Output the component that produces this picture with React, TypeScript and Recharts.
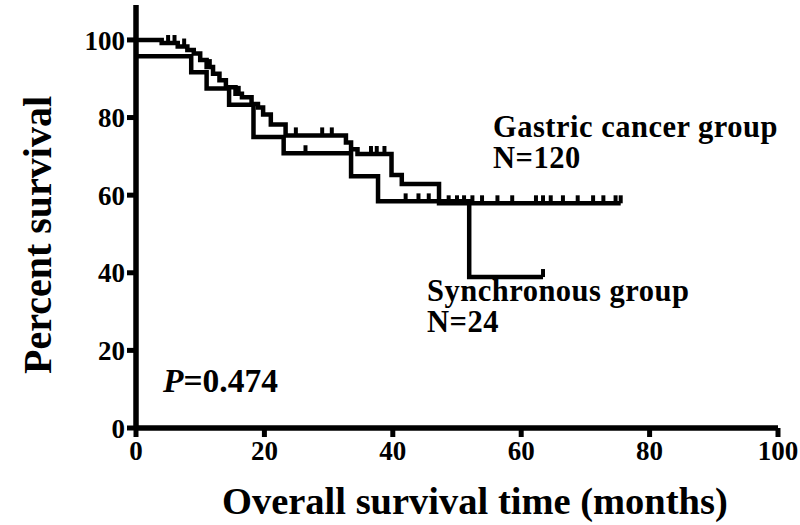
import React from "react";
import { ComposedChart, Line, Scatter, XAxis, YAxis, ReferenceLine } from "recharts";

// Kaplan-Meier step points (time in months, percent survival)
const gastricTime = [0, 4, 6.5, 8, 9, 10, 11, 12, 13, 14, 15.5, 16.5, 18, 19, 19.8, 21, 23.3, 32.7, 33.5, 34.5, 39.8, 41.4, 47.2, 75.5];
const gastricSurv = [100, 99.2, 98.3, 97.4, 96.5, 94.8, 93.0, 91.3, 89.6, 87.8, 86.1, 85.2, 83.5, 82.6, 80.8, 78.2, 75.4, 73.6, 71.8, 70.6, 65.2, 62.9, 57.9, 57.9];
const gastricCensorTime = [5, 6, 7.5, 11.5, 16, 24.9, 29, 30.5, 36.6, 37.5, 38.7, 48.7, 50, 51.1, 52.4, 53.9, 56.3, 58.6, 62.3, 63.4, 64.6, 66.5, 68.8, 71.2, 72.8, 74.7, 75.5];
const gastricCensorSurv = [99.2, 99.2, 98.3, 93.0, 86.1, 75.4, 75.4, 75.4, 70.6, 70.6, 70.6, 57.9, 57.9, 57.9, 57.9, 57.9, 57.9, 57.9, 57.9, 57.9, 57.9, 57.9, 57.9, 57.9, 57.9, 57.9, 57.9];

const syncTime = [0, 8.6, 11, 14.5, 18.3, 23, 33.5, 37.7, 51.9, 63.4];
const syncSurv = [95.8, 91.7, 87.5, 83.3, 75.0, 70.8, 64.9, 58.4, 38.9, 38.9];
const syncCensorTime = [26.4, 42, 44, 45.6, 63.4];
const syncCensorSurv = [70.8, 58.4, 58.4, 58.4, 38.9];

const xTicks = [0, 20, 40, 60, 80, 100];
const yTicks = [0, 20, 40, 60, 80, 100];
const xMax = 100;
const yMax = 109;

const gastricData = gastricTime.map((t, i) => ({ t, s: gastricSurv[i] }));
const syncData = syncTime.map((t, i) => ({ t, s: syncSurv[i] }));
const censorData = [
  ...gastricCensorTime.map((t, i) => ({ t, s: gastricCensorSurv[i] })),
  ...syncCensorTime.map((t, i) => ({ t, s: syncCensorSurv[i] })),
];

const FONT = "'Liberation Serif', 'Times New Roman', serif";
const TICK_LEN = 9;
const TICK_GAP = 2;

const CensorTick = (props: any) => {
  const { cx, cy } = props;
  if (cx == null || cy == null) return null;
  return <line x1={cx} x2={cx} y1={cy} y2={cy - 8} stroke="#000" strokeWidth={4} />;
};

const XTick = (props: any) => {
  const { x, y, payload } = props;
  return (
    <g>
      <line x1={x} x2={x} y1={y - TICK_LEN - TICK_GAP} y2={y - TICK_GAP} stroke="#000" strokeWidth={5} />
      <text x={x} y={y} dy="0.78em" textAnchor="middle" fill="#000" fontSize={27} fontWeight="bold" fontFamily={FONT}>
        {payload.value}
      </text>
    </g>
  );
};

const YTick = (props: any) => {
  const { x, y, payload } = props;
  return (
    <g>
      <line x1={x + TICK_GAP} x2={x + TICK_GAP + TICK_LEN} y1={y} y2={y} stroke="#000" strokeWidth={5} />
      <text x={x} y={y} dy="0.36em" textAnchor="end" fill="#000" fontSize={27} fontWeight="bold" fontFamily={FONT}>
        {payload.value}
      </text>
    </g>
  );
};

const txt: React.CSSProperties = {
  position: "absolute",
  fontFamily: FONT,
  fontWeight: "bold",
  color: "#000",
  whiteSpace: "nowrap",
  lineHeight: 0.9,
};

export default function App() {
  return (
    <div style={{ position: "absolute", left: 0, top: 0, width: 800, height: 525, background: "#fff" }}>
      <ComposedChart width={800} height={525} margin={{ top: 5, right: 22, bottom: 0, left: 0 }}>
        <XAxis
          type="number"
          dataKey="t"
          domain={[0, xMax]}
          ticks={xTicks}
          interval={0}
          height={97}
          tickSize={TICK_LEN}
          tickMargin={TICK_GAP}
          axisLine={false}
          tickLine={false}
          tick={<XTick />}
          allowDataOverflow
        />
        <YAxis
          type="number"
          dataKey="s"
          domain={[0, yMax]}
          ticks={yTicks}
          interval={0}
          width={136}
          tickSize={TICK_LEN}
          tickMargin={TICK_GAP}
          axisLine={false}
          tickLine={false}
          tick={<YTick />}
          allowDataOverflow
        />
        <Line data={gastricData} dataKey="s" type="stepAfter" stroke="#000" strokeWidth={4.5} dot={false} isAnimationActive={false} />
        <Line data={syncData} dataKey="s" type="stepAfter" stroke="#000" strokeWidth={4.5} dot={false} isAnimationActive={false} />
        <Scatter data={censorData} dataKey="s" shape={CensorTick} isAnimationActive={false} />
        <ReferenceLine segment={[{ x: 0, y: 0 }, { x: xMax, y: 0 }]} stroke="#000" strokeWidth={5.5} ifOverflow="visible" />
        <ReferenceLine segment={[{ x: 0, y: 0 }, { x: 0, y: yMax }]} stroke="#000" strokeWidth={5.5} ifOverflow="visible" />
      </ComposedChart>
      <div style={{ ...txt, left: 493, top: 114, fontSize: 30.5, letterSpacing: 0.5 }}>Gastric cancer group</div>
      <div style={{ ...txt, left: 493, top: 145, fontSize: 30.5, letterSpacing: 0.5 }}>N=120</div>
      <div style={{ ...txt, left: 427, top: 278, fontSize: 30.5, letterSpacing: 0.5 }}>Synchronous group</div>
      <div style={{ ...txt, left: 427, top: 309, fontSize: 30.5, letterSpacing: 0.5 }}>N=24</div>
      <div style={{ ...txt, left: 163, top: 366, fontSize: 33.5 }}>
        <span style={{ fontStyle: "italic" }}>P</span>=0.474
      </div>
      <div style={{ ...txt, left: 222, top: 484, fontSize: 38.5 }}>Overall survival time (months)</div>
      <div
        style={{
          ...txt,
          left: 38,
          top: 235,
          fontSize: 40,
          transform: "translate(-50%, -50%) rotate(-90deg)",
        }}
      >
        Percent survival
      </div>
    </div>
  );
}
